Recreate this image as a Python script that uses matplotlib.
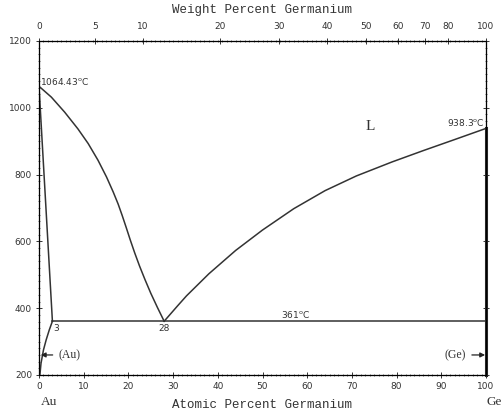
import numpy as np
import matplotlib
matplotlib.use('Agg')
import matplotlib.pyplot as plt
from matplotlib.ticker import MultipleLocator

# Au-Ge phase diagram
liq_au_x = [0, 2.76, 5.74, 8.7, 11.0, 13.2, 15.1, 16.6, 17.7, 18.6, 19.5, 20.4, 21.4,
            22.5, 23.7, 25.0, 26.5, 28]
liq_au_t = [1064.43, 1032, 987, 937, 893, 843, 793, 748, 712, 678, 642, 605, 566,
            526, 486, 445, 402, 361]
liq_ge_x = [28, 31, 33, 38, 44, 50, 57, 64, 71, 79, 86, 93, 100]
liq_ge_t = [361, 407, 437, 503, 573, 634, 698, 752, 796, 838, 872, 905, 938.3]
sol_x = [0, 3]
sol_t = [1064.43, 361]
solv_x = [3, 2.3, 1.6, 1.0, 0.45, 0.2]
solv_t = [361, 335, 305, 275, 235, 200]
eut_x = [3, 100]
eut_t = [361, 361]
ge_x = [100, 100]
ge_t = [938.3, 200]
wt_ticks = [0, 5, 10, 20, 30, 40, 50, 60, 70, 80, 100]

M_GE = 72.61
M_AU = 196.97


def wt_to_at(w):
        w = np.asarray(w, dtype=float)
        a = w / M_GE
        b = (100 - w) / M_AU
        return 100 * a / (a + b)


fig = plt.figure(figsize=(5.02, 4.12), dpi=100)
ax = fig.add_axes([39/502, 37/412, 447/502, 334/412])

lw = 1.1
c = '#333333'
ax.plot(liq_au_x, liq_au_t, color=c, lw=lw)
ax.plot(liq_ge_x, liq_ge_t, color=c, lw=lw)
ax.plot(sol_x, sol_t, color=c, lw=lw)
ax.plot(solv_x, solv_t, color=c, lw=lw)
ax.plot(eut_x, eut_t, color=c, lw=lw)
ax.plot(ge_x, ge_t, color='#222222', lw=2.2, clip_on=False)

ax.set_xlim(0, 100)
ax.set_ylim(200, 1200)
ax.xaxis.set_major_locator(MultipleLocator(10))
ax.xaxis.set_minor_locator(MultipleLocator(1))
ax.yaxis.set_major_locator(MultipleLocator(200))
ax.yaxis.set_minor_locator(MultipleLocator(20))
ax.tick_params(which='both', direction='inout', top=False, right=True,
               labelsize=6.5, colors=c, pad=3)
ax.tick_params(which='major', length=4, width=0.7)
ax.tick_params(which='minor', length=2, width=0.5)
for s in ax.spines.values():
        s.set_color('#555555')
        s.set_linewidth(0.9)

ax2 = ax.twiny()
ax2.set_xlim(0, 100)
ax2.set_xticks(wt_to_at(wt_ticks))
ax2.set_xticklabels([str(w) for w in wt_ticks])
ax2.xaxis.set_minor_locator(MultipleLocator(1))
ax2.tick_params(which='both', direction='inout', labelsize=6.5, colors=c, pad=5)
ax2.tick_params(which='major', length=4, width=0.7)
ax2.tick_params(which='minor', length=2, width=0.5)

mono = 'Liberation Mono'
ax2.set_xlabel('Weight Percent Germanium', family=mono, fontsize=9, color=c, labelpad=7)
ax.set_xlabel('Atomic Percent Germanium', family=mono, fontsize=9, color=c, labelpad=6)
ax.set_ylabel('Temperature \u00b0C', family=mono, fontsize=9, color=c)
ax.yaxis.set_label_coords(-0.09, 0.58)

ax.text(0.005, -0.082, 'Au', transform=ax.transAxes, family='Liberation Serif', fontsize=9.5,
        color=c, ha='left', va='center')
ax.text(1.002, -0.082, 'Ge', transform=ax.transAxes, family='Liberation Serif', fontsize=9.5,
        color=c, ha='left', va='center')

sm = dict(fontsize=6.5, color=c)
ax.text(0.3, 1062, '1064.43$^{\\rm o}$C', ha='left', va='bottom', **sm)
ax.text(99.8, 940, '938.3$^{\\rm o}$C', ha='right', va='bottom', **sm)
ax.text(57.5, 365, '361$^{\\rm o}$C', ha='center', va='bottom', **sm)
ax.text(3.2, 352, '3', ha='left', va='top', **sm)
ax.text(28, 352, '28', ha='center', va='top', **sm)
ax.text(74, 945, 'L', family='Liberation Serif', fontsize=11, color=c, ha='center', va='center')

ax.annotate('(Au)', xy=(0.4, 260), xytext=(4.3, 260), family='Liberation Serif', fontsize=8.5,
            color=c, ha='left', va='center',
            arrowprops=dict(arrowstyle='-|>', color='#222222', lw=0.9, mutation_scale=7,
                            shrinkA=2, shrinkB=0))
ax.annotate('(Ge)', xy=(99.8, 260), xytext=(95.6, 260), family='Liberation Serif', fontsize=8.5,
            color=c, ha='right', va='center',
            arrowprops=dict(arrowstyle='-|>', color='#222222', lw=0.9, mutation_scale=7,
                            shrinkA=2, shrinkB=0))

fig.savefig('out.png', dpi=100)
